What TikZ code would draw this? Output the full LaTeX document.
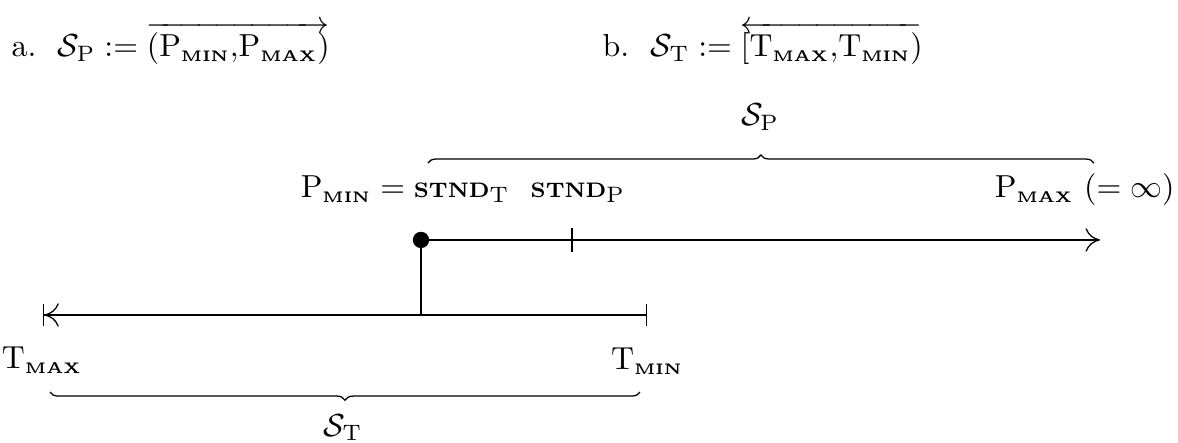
\documentclass[tikz,border=0pt]{standalone}
\usepackage{amsmath}
\usepackage{tikz}
\usetikzlibrary{arrows.meta,positioning,decorations.pathreplacing}
\newcommand{\bsc}[1]{\mbox{\bfseries\fontsize{4.8}{5}\selectfont #1}}
\newcommand{\stnd}{\mbox{\bfseries\fontsize{6.6}{8}\selectfont STND}}
\newcommand{\Pmin}{\mathrm{P}_{\bsc{MIN}}}
\newcommand{\Pmax}{\mathrm{P}_{\bsc{MAX}}}
\newcommand{\Tmin}{\mathrm{T}_{\bsc{MIN}}}
\newcommand{\Tmax}{\mathrm{T}_{\bsc{MAX}}}
\newcommand{\SetP}{\mathcal{S}_{\mathrm{P}}}
\newcommand{\SetT}{\mathcal{S}_{\mathrm{T}}}

\begin{document}
\begin{tikzpicture}[
    lbl/.style={inner sep=0pt, anchor=base west},
    endlbl/.style={inner sep=0pt},
    brc/.style={decorate, decoration={brace, amplitude=0.09cm}},
    dotnode/.style={circle, fill=black, inner sep=0pt, minimum size=0.18cm}
]
    \useasboundingbox (0,0) rectangle (13,-4.878);

    \node[lbl] (defa) at (0.121, -0.629) {a.\ \ $\SetP := \overrightarrow{\left(\Pmin{,}\Pmax\right)}$};
    \node[lbl] (defb) at (6.643, -0.629) {b.\ \ $\SetT := \overleftarrow{\left[\Tmax{,}\Tmin\right)}$};

    \node[lbl, anchor=base east] (pmin) at (5.628, -2.185) {$\Pmin = \stnd_{\mathrm{T}}$};
    \node[lbl] (stndp) at (5.849, -2.185) {$\stnd_{\mathrm{P}}$};
    \node[lbl, anchor=base east] (pmax) at (12.967, -2.185) {$\Pmax\ (= \infty)$};

    \node[dotnode] (dot) at (4.646, -2.648) {};
    \coordinate (tick) at (6.312, -2.648);
    \coordinate (pend) at (12.139, -2.648);
    \coordinate (corner) at (4.646, -3.476);
    \coordinate (tmaxend) at (0.475, -3.476);
    \coordinate (tminend) at (7.140, -3.476);

    \draw[-{To[length=1.6mm,width=2.6mm]}] (dot.center) -- (pend);
    \draw ([yshift=0.13cm]tick) -- ([yshift=-0.13cm]tick);
    \draw (dot.center) -- (corner);
    \draw[{Bar[width=2.5mm]To[length=1.6mm,width=2.6mm]}-{Bar[width=2.5mm]}] (tmaxend) -- (tminend);

    \node[endlbl] (tmax) at (0.463, -3.973) {$\Tmax$};
    \node[endlbl] (tmin) at (7.140, -3.984) {$\Tmin$};

    % braces
    \draw[brc] (4.723, -1.800) -- (12.072, -1.800);
    \node[endlbl] (setp) at (8.387, -1.291) {$\SetP$};
    \draw[brc] (7.062, -4.326) -- (0.552, -4.326);
    \node[endlbl] (sett) at (3.785, -4.72) {$\SetT$};
\end{tikzpicture}
\end{document}
